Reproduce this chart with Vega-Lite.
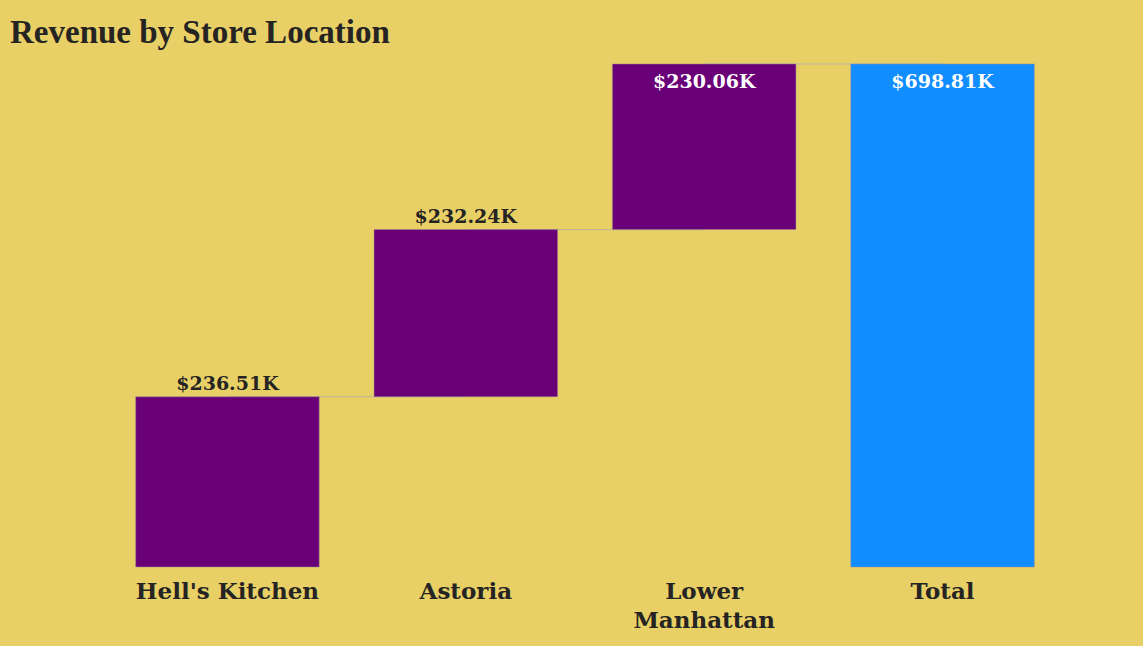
{
  "$schema": "https://vega.github.io/schema/vega-lite/v6.json",
  "width": 994,
  "height": 503,
  "autosize": {"type": "none"},
  "padding": {"left": 88, "top": 64, "right": 61, "bottom": 79},
  "background": "#E8D066",
  "title": {
    "text": "Revenue by Store Location",
    "anchor": "start",
    "frame": "group",
    "dx": -78,
    "dy": 34,
    "offset": 20,
    "baseline": "alphabetic",
    "font": "Liberation Serif",
    "fontSize": 33,
    "fontWeight": "bold",
    "color": "#252423"
  },
  "data": {
    "values": [
      {"location": "Hell's Kitchen", "start": 0, "end": 236.51, "kind": "Increase", "label": "$236.51K", "next": "Astoria"},
      {"location": "Astoria", "start": 236.51, "end": 468.75, "kind": "Increase", "label": "$232.24K", "next": "Lower Manhattan"},
      {"location": "Lower Manhattan", "start": 468.75, "end": 698.81, "kind": "Increase", "label": "$230.06K", "next": "Total"},
      {"location": "Total", "start": 0, "end": 698.81, "kind": "Total", "label": "$698.81K", "next": null}
    ]
  },
  "layer": [
    {
      "transform": [
        {"filter": "datum.next != null"},
        {"fold": ["location", "next"], "as": ["side", "cat"]}
      ],
      "mark": {"type": "line", "color": "#BDB49C", "strokeWidth": 1},
      "encoding": {
        "x": {"field": "cat", "type": "nominal", "sort": null, "scale": {"domain": ["Hell's Kitchen", "Astoria", "Lower Manhattan", "Total"]}},
        "y": {"field": "end", "type": "quantitative", "scale": {"domain": [0, 698.81], "nice": false}},
        "detail": {"field": "location"}
      }
    },
    {
      "mark": {"type": "bar", "stroke": "#9a8a95", "strokeWidth": 0.5},
      "encoding": {
        "x": {"field": "location", "type": "nominal", "sort": null},
        "y": {"field": "start", "type": "quantitative"},
        "y2": {"field": "end"},
        "color": {
          "field": "kind",
          "type": "nominal",
          "scale": {"domain": ["Increase", "Total"], "range": ["#6A0077", "#118DFF"]},
          "legend": null
        }
      }
    },
    {
      "transform": [{"filter": "datum.location == \"Hell's Kitchen\" || datum.location == 'Astoria'"}],
      "mark": {"type": "text", "baseline": "alphabetic", "dy": -7, "font": "DejaVu Serif", "fontSize": 19, "fontWeight": "bold", "color": "#252423"},
      "encoding": {
        "x": {"field": "location", "type": "nominal", "sort": null},
        "y": {"field": "end", "type": "quantitative"},
        "text": {"field": "label"}
      }
    },
    {
      "transform": [{"filter": "datum.location == 'Lower Manhattan' || datum.location == 'Total'"}],
      "mark": {"type": "text", "baseline": "alphabetic", "dy": 24, "font": "DejaVu Serif", "fontSize": 19, "fontWeight": "bold", "color": "#FFFFFF"},
      "encoding": {
        "x": {"field": "location", "type": "nominal", "sort": null},
        "y": {"field": "end", "type": "quantitative"},
        "text": {"field": "label"}
      }
    }
  ],
  "config": {
    "view": {"stroke": null},
    "scale": {"bandPaddingInner": 0.23, "bandPaddingOuter": 0.2},
    "axisX": {
      "title": null,
      "domain": false,
      "ticks": false,
      "labelAngle": 0,
      "labelPadding": 13,
      "labelLimit": 400,
      "labelFont": "DejaVu Serif",
      "labelFontSize": 23,
      "labelFontWeight": "bold",
      "labelColor": "#252423",
      "labelLineHeight": 29,
      "labelExpr": "datum.label == 'Lower Manhattan' ? ['Lower', 'Manhattan'] : datum.label"
    },
    "axisY": {"disable": true},
    "axis": {"title": null}
  }
}
